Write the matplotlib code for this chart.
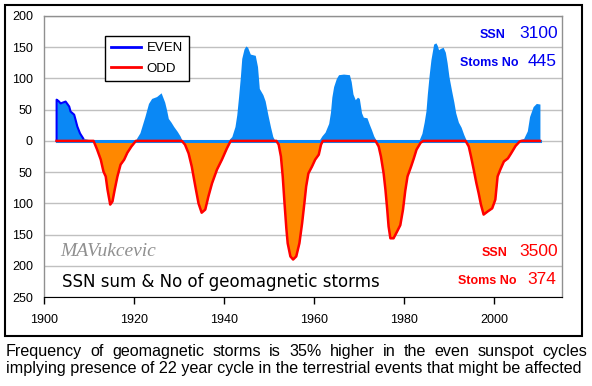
import numpy as np
import matplotlib
matplotlib.use('Agg')
import matplotlib.pyplot as plt
from matplotlib.lines import Line2D
from matplotlib.patches import Rectangle

plt.rcParams['font.family'] = ['Liberation Sans', 'DejaVu Sans']

# EVEN cycles (SSN, plotted upwards)
even_years = [1902.8, 1902.8, 1903.2, 1903.7, 1904.8, 1905.6, 1905.9, 1906.7, 1907.0, 1907.4, 1908.0, 1908.7, 1910.0, 1910.5,
              1920.2, 1921.3, 1922.4, 1923.2, 1923.9, 1925.0, 1926.0, 1926.8, 1927.2, 1927.6, 1928.2, 1928.8, 1929.6, 1930.2, 1930.7,
              1940.8, 1941.7, 1942.4, 1942.8, 1943.2, 1943.6, 1943.9, 1944.4, 1944.8, 1945.2, 1945.8, 1946.9, 1947.4, 1947.8,
              1948.6, 1949.1, 1949.7, 1950.3, 1950.8, 1951.3,
              1961.0, 1961.7, 1962.4, 1963.2, 1963.6, 1963.9, 1964.3, 1964.9, 1965.4, 1966.5, 1967.8, 1968.2, 1968.6, 1969.1,
              1969.6, 1970.0, 1970.5, 1970.9, 1971.7, 1972.2, 1972.7, 1973.2, 1973.8,
              1983.2, 1983.9, 1984.4, 1984.8, 1985.1, 1985.5, 1985.9, 1986.5, 1987.0, 1987.3, 1987.6, 1988.0, 1988.6, 1989.1,
              1989.5, 1989.9, 1990.5, 1991.0, 1991.4, 1992.0, 1992.6, 1993.2, 1993.8,
              2005.0, 2006.5, 2007.3, 2007.8, 2008.6, 2009.3, 2010.1, 2010.1]
even_vals = [0, 66, 64, 60, 63, 55, 47, 42, 34, 23, 12, 4, 2, 0,
             0, 13, 39, 60, 68, 71, 77, 62, 50, 36, 30, 23, 15, 8, 0,
             0, 7, 23, 42, 71, 103, 132, 147, 152, 150, 139, 137, 119, 84,
             74, 64, 42, 22, 7, 0,
             0, 8, 14, 28, 46, 70, 87, 100, 106, 107, 106, 95, 75, 66,
             70, 68, 45, 38, 37, 27, 18, 8, 0,
             0, 12, 30, 48, 75, 105, 130, 155, 157, 153, 146, 148, 150, 142,
             125, 103, 80, 62, 45, 30, 22, 10, 0,
             0, 4, 16, 39, 55, 60, 59, 0]

# ODD cycles (SSN, plotted downwards)
odd_years = [1902.8,
             1911.0, 1911.8, 1912.6, 1913.2, 1913.7, 1914.1, 1914.7, 1915.2, 1915.7, 1916.3, 1917.0, 1917.8, 1918.5, 1919.4, 1920.4,
             1930.6, 1931.3, 1932.1, 1932.8, 1933.6, 1934.3, 1935.0, 1935.8, 1936.5, 1937.3, 1938.4, 1939.5, 1940.6, 1941.3, 1941.5,
             1951.6, 1952.1, 1952.6, 1953.0, 1953.4, 1953.8, 1954.1, 1954.7, 1955.3, 1956.0, 1956.7, 1957.3, 1957.8, 1958.2,
             1958.7, 1959.5, 1960.2, 1961.0, 1961.5, 1961.9,
             1973.6, 1974.3, 1974.8, 1975.4, 1975.8, 1976.2, 1976.5, 1976.9, 1977.6, 1978.4, 1979.1, 1979.7, 1980.2, 1980.7,
             1981.5, 1982.1, 1982.7, 1983.6, 1984.2,
             1993.6, 1994.3, 1994.8, 1995.4, 1996.0, 1996.5, 1997.0, 1997.6, 1998.5, 1999.5, 2000.2, 2000.7, 2001.3, 2002.1,
             2003.0, 2003.7, 2004.7, 2005.6, 2006.0,
             2010.1]
odd_vals = [0,
            0, 14, 30, 49, 57, 78, 102, 97, 78, 57, 38, 30, 19, 9, 0,
            0, 6, 20, 41, 73, 100, 115, 110, 89, 68, 46, 30, 12, 2, 0,
            0, 6, 25, 57, 100, 140, 164, 185, 190, 185, 164, 132, 100, 73,
            52, 41, 30, 22, 6, 0,
            0, 9, 25, 52, 78, 110, 137, 156, 156, 145, 135, 110, 80, 57,
            41, 28, 14, 3, 0,
            0, 9, 25, 46, 68, 84, 102, 118, 113, 108, 94, 57, 46, 33,
            28, 20, 8, 1, 0,
            0]

y_ticks = [-250, -200, -150, -100, -50, 0, 50, 100, 150, 200]
x_ticks = [1900, 1920, 1940, 1960, 1980, 2000]

W, H = 592, 386


def px(x, y):
    return x / W, 1 - y / H


fig = plt.figure(figsize=(W / 100, H / 100), dpi=100)
fig.patch.set_facecolor('white')
ax = fig.add_axes([44 / W, 1 - 297 / H, 518 / W, 281 / H])

ev_y = np.array(even_years)
ev_v = np.array(even_vals)
od_y = np.array(odd_years)
od_v = -np.array(odd_vals)

light_blue = '#0A88F5'
ax.fill_between(ev_y, 0, ev_v, color=light_blue, lw=0, zorder=2)
ax.fill_between(od_y, 0, od_v, color='#FF8800', lw=0, zorder=2)
ax.plot([even_years[0], even_years[-1]], [0, 0], color=light_blue, lw=2.2, zorder=3)
n14 = 12
ax.plot(ev_y[:n14], ev_v[:n14], color='#0000FF', lw=1.5, zorder=4)
ax.plot(od_y, od_v, color='#FF0000', lw=1.8, zorder=4)

ax.set_xlim(1900, 2015)
ax.set_ylim(-250, 200)
ax.set_yticks(y_ticks)
ax.set_yticklabels([str(abs(v)) for v in y_ticks])
ax.set_xticks(x_ticks)
ax.grid(axis='y', color='#C0C0C0', lw=1, zorder=1)
ax.tick_params(axis='y', length=0, pad=8, labelsize=9)
ax.tick_params(axis='x', length=5, width=1, direction='out', pad=7, labelsize=9)
for s in ['left', 'top', 'right']:
    ax.spines[s].set_color('#909090')
    ax.spines[s].set_linewidth(1)
ax.spines['bottom'].set_color('black')

handles = [Line2D([], [], color='#0000FF', lw=2), Line2D([], [], color='#FF0000', lw=2)]
leg = ax.legend(handles, ['EVEN', 'ODD'], loc='upper left', bbox_to_anchor=(0.118, 0.929),
                fontsize=9.5, frameon=True, fancybox=False, edgecolor='black', framealpha=1,
                borderpad=0.45, handlelength=2.3, handletextpad=0.4, labelspacing=0.65, borderaxespad=0)
leg.get_frame().set_linewidth(1)

# outer frame
fig.patches.append(Rectangle(px(5, 336), 577 / W, 331 / H, transform=fig.transFigure,
                             fill=False, ec='black', lw=1.5))

blue_t = '#0000F0'
fig.text(*px(506, 37.5), 'SSN', color=blue_t, fontsize=9, fontweight='bold', ha='right', va='baseline')
fig.text(*px(558, 37.5), '3100', color=blue_t, fontsize=12.5, ha='right', va='baseline')
fig.text(*px(519, 66), 'Stoms No', color=blue_t, fontsize=9, fontweight='bold', ha='right', va='baseline')
fig.text(*px(557, 66), '445', color=blue_t, fontsize=12.5, ha='right', va='baseline')

fig.text(*px(508, 255.7), 'SSN', color='#FF0000', fontsize=9, fontweight='bold', ha='right', va='baseline')
fig.text(*px(558, 255.7), '3500', color='#FF0000', fontsize=12.5, ha='right', va='baseline')
fig.text(*px(516, 284.5), 'Stoms No', color='#FF0000', fontsize=9, fontweight='bold', ha='right', va='baseline')
fig.text(*px(556, 284.5), '374', color='#FF0000', fontsize=12.5, ha='right', va='baseline')

fig.text(*px(60, 256), 'MAVukcevic', color='#909090', fontsize=14, family='Liberation Serif',
         style='italic', ha='left', va='baseline')
fig.text(*px(62, 286.7), 'SSN sum & No of geomagnetic storms', color='black', fontsize=12,
         family='DejaVu Sans', ha='left', va='baseline')

# caption, first line justified
line1 = 'Frequency of geomagnetic storms is 35% higher in the even sunspot cycles'.split()
line2 = 'implying presence of 22 year cycle in the terrestrial events that might be affected'
cap_size = 11.6
renderer = fig.canvas.get_renderer()
words = [fig.text(0, 0, w, fontsize=cap_size, va='baseline') for w in line1]
widths = [t.get_window_extent(renderer).width for t in words]
left, right = 6, 587
gap = (right - left - sum(widths)) / (len(words) - 1)
xpos = left
for t, w in zip(words, widths):
    t.set_position(px(xpos, 356))
    xpos += w + gap
fig.text(*px(6, 373), line2, fontsize=cap_size, ha='left', va='baseline')

fig.savefig('out.png', dpi=100)
